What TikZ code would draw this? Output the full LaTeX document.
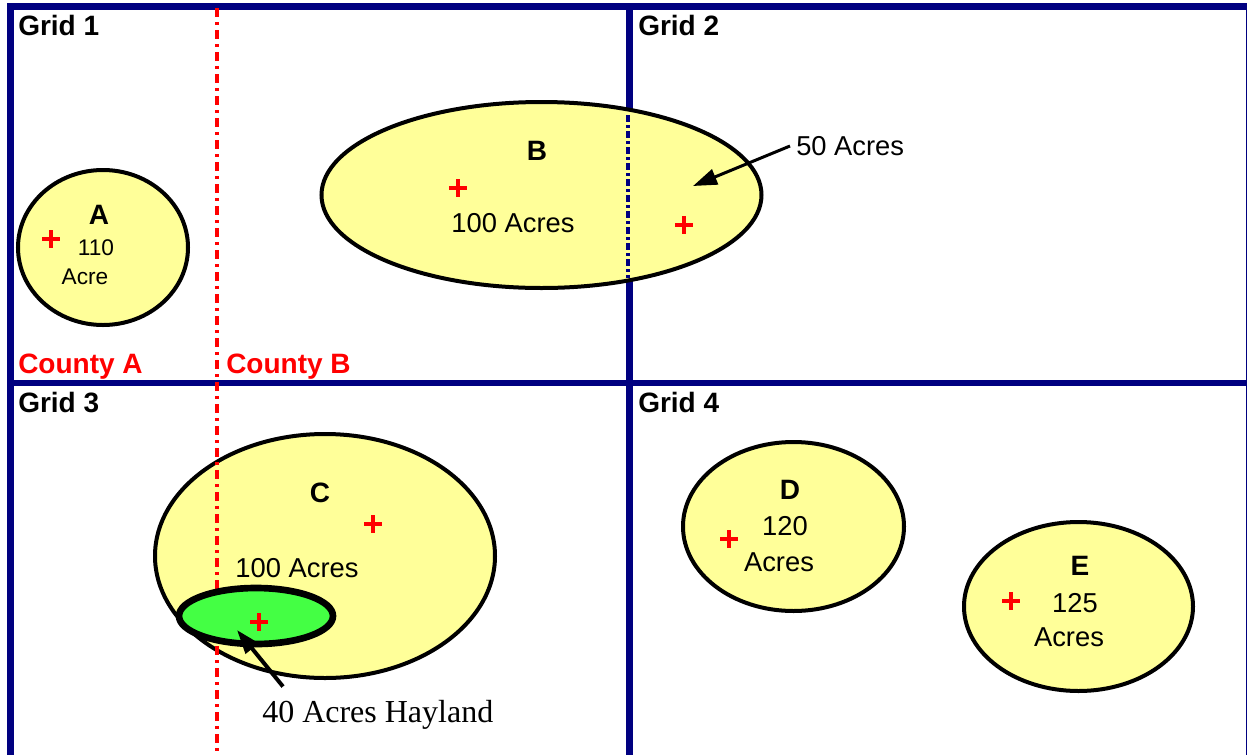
\documentclass[tikz,border=0pt]{standalone}
\usepackage{fontspec}
\setmainfont{Liberation Sans}
\newfontfamily\hayfont{Liberation Serif}
\usetikzlibrary{arrows.meta}
\definecolor{gridblue}{RGB}{0,0,128}
\definecolor{fieldyellow}{RGB}{255,255,153}
\definecolor{haygreen}{RGB}{68,255,68}
\newcommand*{\xMin}{0}
\newcommand*{\xMax}{1247}
\newcommand*{\yMin}{0}
\newcommand*{\yMax}{754}
\newcommand*{\xMid}{629.5}
\newcommand*{\yMid}{383}

\begin{document}
\begin{tikzpicture}[x=0.75pt,y=-0.75pt,
	field/.style={draw=black,line width=3pt,fill=fieldyellow},
	gridlbl/.style={anchor=base west,inner sep=0pt,font=\fontsize{21}{25}\selectfont\bfseries},
	fieldname/.style={inner sep=0pt,font=\fontsize{21}{25}\selectfont\bfseries},
	acres/.style={inner sep=0pt,font=\fontsize{20.5}{24}\selectfont},
	county/.style={red,line width=3pt,dash pattern=on 6.75pt off 3.75pt on 2.25pt off 3.75pt},
	pointer/.style={-{Triangle[length=18pt,width=12pt]},line width=2.25pt}]
	\useasboundingbox (\xMin,\yMin) rectangle (\xMax,\yMax);

	\draw [gridblue,line width=5.25pt] (10,6.5) rectangle (1249,760);
	\draw [gridblue,line width=5.25pt] (\xMid,6.5) -- (\xMid,760);
	\draw [gridblue,line width=4.5pt] (10,\yMid) -- (1249,\yMid);

	\draw [field] (103,247.5) ellipse [x radius=85, y radius=77.5];
	\draw [field] (541.5,195) ellipse [x radius=220, y radius=93];
	\draw [field] (325,556) ellipse [x radius=170, y radius=122];
	\draw [field] (793.5,526.5) ellipse [x radius=110.5, y radius=84.5];
	\draw [field] (1078.5,606.5) ellipse [x radius=114.5, y radius=84.5];

	\draw [gridblue,line width=3pt,dash pattern=on 5pt off 2.5pt on 2pt off 2.5pt] (628,115) -- (628,278);
	\draw [county] (217,8) -- (217,\yMax);

	\draw [line width=5pt,fill=haygreen] (256,616) ellipse [x radius=77, y radius=28];

	\foreach \cx/\cy in {51/239,458/188,684/225,373/524,259/622,729/539,1011/601} {
	    \draw [red,line width=3pt] (\cx-9,\cy) -- (\cx+9,\cy) (\cx,\cy-9) -- (\cx,\cy+9);
	}

	\node [gridlbl] (grid1) at (18,35) {Grid 1};
	\node [gridlbl] (grid2) at (638,35) {Grid 2};
	\node [gridlbl] (grid3) at (18,412) {Grid 3};
	\node [gridlbl] (grid4) at (638,412) {Grid 4};
	\node [gridlbl,red] (countyA) at (18,373) {County A};
	\node [gridlbl,red] (countyB) at (226,373) {County B};

	\node [fieldname] (nameA) at (99,215) {A};
	\node [acres,font=\fontsize{17}{20}\selectfont] (numA) at (96,248) {110};
	\node [acres,font=\fontsize{17}{20}\selectfont] (acresA) at (85,277) {Acre};

	\node [fieldname] (nameB) at (537,151) {B};
	\node [acres] (acresB) at (513,223) {100 Acres};
	\node [acres,anchor=west,inner sep=4.5pt] (acresB2) at (790,146) {50 Acres};
	\coordinate (tipB) at (693,186);
	\draw [pointer] (acresB2.west) -- (tipB);

	\node [fieldname] (nameC) at (320,493) {C};
	\node [acres] (acresC) at (297,568) {100 Acres};
	\node [anchor=base west,inner sep=0pt,font=\hayfont\fontsize{24}{28}\selectfont] (hayland) at (262,722) {40 Acres Hayland};
	\coordinate (tipHay) at (237,630);
	\draw [pointer,line width=3pt] ([shift={(21,-13)}]hayland.north west) -- (tipHay);

	\node [fieldname] (nameD) at (790,490) {D};
	\node [acres] (numD) at (785,526) {120};
	\node [acres] (acresD) at (779,562) {Acres};

	\node [fieldname] (nameE) at (1080,566) {E};
	\node [acres] (numE) at (1075,603) {125};
	\node [acres] (acresE) at (1069,637) {Acres};

\end{tikzpicture}
\end{document}
